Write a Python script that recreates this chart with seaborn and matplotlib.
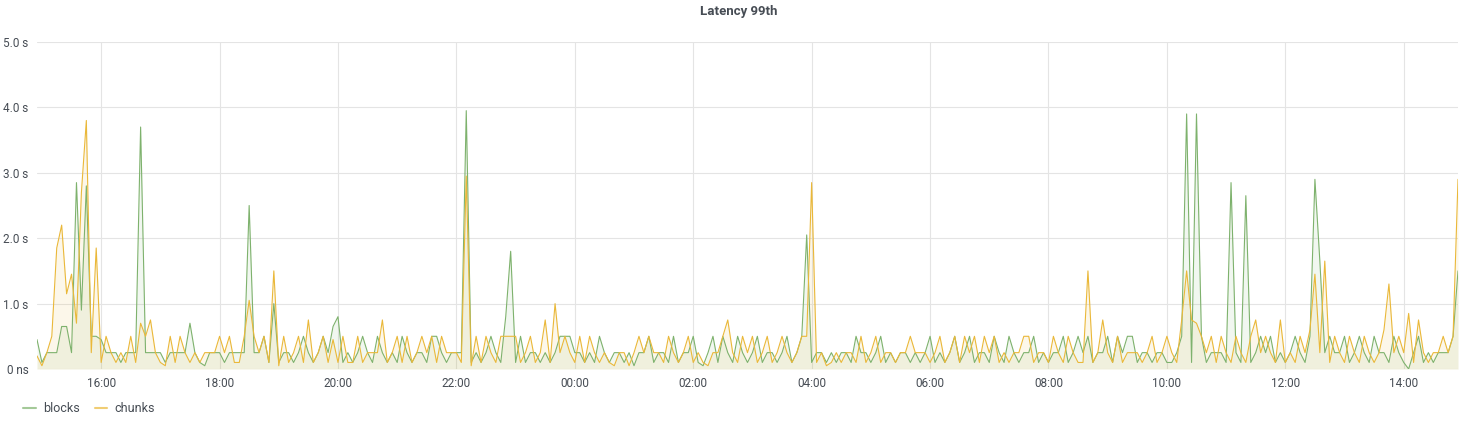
import pandas as pd
import numpy as np
import matplotlib
matplotlib.use("Agg")
import matplotlib.pyplot as plt
import matplotlib.dates as mdates
from matplotlib.ticker import FixedLocator
import seaborn as sns

# 5-minute samples from 14:55 to 14:55 next day, one row per hour (seconds)
blocks = [
    0.45, 0.1, 0.25, 0.25, 0.25, 0.65, 0.65, 0.25, 2.85, 0.9, 2.8, 0.5,
    0.5, 0.45, 0.25, 0.25, 0.25, 0.1, 0.25, 0.25, 0.25, 3.7, 0.25, 0.25,
    0.25, 0.25, 0.1, 0.25, 0.25, 0.25, 0.25, 0.7, 0.25, 0.1, 0.05, 0.25,
    0.25, 0.25, 0.1, 0.25, 0.25, 0.25, 0.25, 2.5, 0.25, 0.25, 0.5, 0.1,
    1.0, 0.1, 0.25, 0.25, 0.1, 0.25, 0.5, 0.25, 0.1, 0.25, 0.5, 0.25,
    0.65, 0.8, 0.1, 0.25, 0.1, 0.25, 0.5, 0.25, 0.1, 0.5, 0.25, 0.1,
    0.25, 0.1, 0.5, 0.25, 0.1, 0.25, 0.25, 0.1, 0.5, 0.5, 0.25, 0.1,
    0.25, 0.25, 0.25, 3.95, 0.1, 0.25, 0.1, 0.25, 0.5, 0.25, 0.1, 0.8,
    1.8, 0.1, 0.5, 0.1, 0.25, 0.25, 0.1, 0.25, 0.1, 0.25, 0.5, 0.5,
    0.5, 0.25, 0.25, 0.1, 0.25, 0.1, 0.5, 0.25, 0.1, 0.25, 0.25, 0.1,
    0.25, 0.05, 0.25, 0.25, 0.5, 0.1, 0.25, 0.25, 0.1, 0.5, 0.1, 0.25,
    0.25, 0.5, 0.1, 0.05, 0.25, 0.5, 0.1, 0.5, 0.25, 0.1, 0.5, 0.25,
    0.1, 0.25, 0.5, 0.1, 0.25, 0.25, 0.1, 0.25, 0.5, 0.1, 0.25, 0.5,
    2.05, 0.1, 0.25, 0.25, 0.1, 0.25, 0.1, 0.25, 0.25, 0.1, 0.5, 0.25,
    0.25, 0.1, 0.25, 0.5, 0.1, 0.25, 0.1, 0.25, 0.25, 0.1, 0.25, 0.1,
    0.25, 0.5, 0.1, 0.25, 0.1, 0.25, 0.5, 0.1, 0.25, 0.5, 0.1, 0.25,
    0.25, 0.1, 0.5, 0.25, 0.1, 0.5, 0.25, 0.1, 0.25, 0.25, 0.5, 0.1,
    0.25, 0.1, 0.25, 0.25, 0.5, 0.1, 0.25, 0.5, 0.25, 0.5, 0.1, 0.25,
    0.25, 0.5, 0.1, 0.5, 0.25, 0.5, 0.5, 0.1, 0.25, 0.25, 0.1, 0.25,
    0.25, 0.1, 0.1, 0.25, 0.5, 3.9, 0.1, 3.9, 0.5, 0.1, 0.25, 0.25,
    0.25, 0.1, 2.85, 0.25, 0.1, 2.65, 0.1, 0.25, 0.5, 0.25, 0.5, 0.1,
    0.25, 0.1, 0.25, 0.5, 0.25, 0.1, 0.5, 2.9, 1.65, 0.25, 0.5, 0.25,
    0.25, 0.5, 0.1, 0.25, 0.5, 0.25, 0.1, 0.5, 0.25, 0.25, 0.1, 0.5,
    0.25, 0.1, 0.0, 0.25, 0.5, 0.1, 0.25, 0.1, 0.25, 0.25, 0.25, 0.5,
    1.5,
]

chunks = [
    0.2, 0.05, 0.25, 0.5, 1.85, 2.2, 1.15, 1.45, 0.7, 2.7, 3.8, 0.25,
    1.85, 0.1, 0.5, 0.25, 0.1, 0.25, 0.1, 0.5, 0.1, 0.7, 0.5, 0.75,
    0.25, 0.1, 0.05, 0.5, 0.1, 0.5, 0.25, 0.1, 0.25, 0.1, 0.25, 0.25,
    0.25, 0.5, 0.25, 0.5, 0.1, 0.1, 0.5, 1.05, 0.5, 0.25, 0.5, 0.1,
    1.5, 0.05, 0.5, 0.1, 0.25, 0.5, 0.1, 0.75, 0.1, 0.25, 0.5, 0.1,
    0.45, 0.1, 0.5, 0.1, 0.1, 0.5, 0.1, 0.25, 0.25, 0.25, 0.75, 0.1,
    0.25, 0.5, 0.1, 0.5, 0.1, 0.25, 0.5, 0.25, 0.5, 0.1, 0.5, 0.25,
    0.25, 0.25, 0.1, 2.95, 0.05, 0.5, 0.1, 0.5, 0.25, 0.1, 0.5, 0.5,
    0.5, 0.5, 0.1, 0.25, 0.5, 0.1, 0.25, 0.75, 0.1, 1.0, 0.25, 0.5,
    0.25, 0.1, 0.5, 0.1, 0.5, 0.25, 0.1, 0.25, 0.1, 0.05, 0.25, 0.25,
    0.05, 0.25, 0.5, 0.25, 0.5, 0.25, 0.25, 0.1, 0.5, 0.25, 0.1, 0.25,
    0.5, 0.1, 0.25, 0.1, 0.05, 0.25, 0.25, 0.5, 0.75, 0.25, 0.1, 0.5,
    0.25, 0.5, 0.1, 0.25, 0.5, 0.1, 0.25, 0.5, 0.25, 0.1, 0.25, 0.5,
    0.5, 2.85, 0.1, 0.25, 0.05, 0.1, 0.25, 0.1, 0.25, 0.25, 0.1, 0.5,
    0.1, 0.25, 0.5, 0.1, 0.25, 0.25, 0.1, 0.25, 0.25, 0.5, 0.25, 0.25,
    0.25, 0.1, 0.25, 0.5, 0.1, 0.25, 0.5, 0.1, 0.5, 0.25, 0.5, 0.1,
    0.5, 0.25, 0.5, 0.1, 0.25, 0.1, 0.25, 0.25, 0.5, 0.5, 0.1, 0.25,
    0.25, 0.1, 0.5, 0.25, 0.1, 0.5, 0.25, 0.1, 0.1, 1.5, 0.1, 0.25,
    0.75, 0.25, 0.1, 0.5, 0.1, 0.25, 0.25, 0.25, 0.1, 0.25, 0.5, 0.1,
    0.25, 0.5, 0.25, 0.1, 0.75, 1.5, 0.75, 0.7, 0.5, 0.25, 0.5, 0.1,
    0.5, 0.25, 0.1, 0.5, 0.25, 0.1, 0.5, 0.75, 0.25, 0.5, 0.25, 0.1,
    0.75, 0.1, 0.25, 0.1, 0.5, 0.25, 0.6, 1.45, 0.25, 1.65, 0.1, 0.5,
    0.25, 0.1, 0.5, 0.25, 0.1, 0.5, 0.25, 0.1, 0.25, 0.6, 1.3, 0.25,
    0.5, 0.25, 0.85, 0.1, 0.75, 0.25, 0.1, 0.25, 0.25, 0.5, 0.25, 0.5,
    2.9,
]

series_names = ["blocks", "chunks"]
series_colors = ["#7EB26D", "#EAB839"]
y_ticks = [0, 1, 2, 3, 4, 5]
y_labels = ["0 ns", "1.0 s", "2.0 s", "3.0 s", "4.0 s", "5.0 s"]

times = pd.date_range("2021-03-01 14:55", periods=len(blocks), freq="5min")
df = pd.DataFrame({
    "time": np.concatenate([times, times]),
    "latency": blocks + chunks,
    "series": ["blocks"] * len(blocks) + ["chunks"] * len(chunks),
})

sns.set_style("white")
plt.rcParams["font.family"] = ["Roboto", "DejaVu Sans"]
text_col = "#464c54"

fig = plt.figure(figsize=(14.78, 4.25), dpi=100)
ax = fig.add_axes([37 / 1478, 1 - 369 / 425, (1458 - 37) / 1478, (369 - 42) / 425])

palette = dict(zip(series_names, series_colors))
sns.lineplot(data=df, x="time", y="latency", hue="series", palette=palette,
             linewidth=0.8, ax=ax, legend=False)

# grafana-style light fill under each series
for name, col in palette.items():
    sub = df[df["series"] == name]
    ax.fill_between(sub["time"], 0, sub["latency"], color=col, alpha=0.1, lw=0)

ax.set_xlim(times[0], times[-1])
ax.set_ylim(0, 5)
ax.yaxis.set_major_locator(FixedLocator(y_ticks))
ax.set_yticklabels(y_labels)
ax.xaxis.set_major_locator(mdates.HourLocator(byhour=range(0, 24, 2)))
ax.xaxis.set_major_formatter(mdates.DateFormatter("%H:%M"))
ax.grid(True, color="#e4e4e4", lw=0.8)
ax.set_axisbelow(True)
for s in ax.spines.values():
    s.set_visible(False)
ax.tick_params(axis="both", length=0, labelsize=8.5, colors=text_col, pad=6)
ax.set_xlabel("")
ax.set_ylabel("")

fig.text(0.5, 1 - 12 / 425, "Latency 99th", ha="center", va="center",
         fontsize=9.5, fontweight="bold", color=text_col)

handles = [plt.Line2D([], [], color=c, lw=1.5, alpha=0.7) for c in series_colors]
leg = fig.legend(handles, series_names, loc="center left",
                 bbox_to_anchor=(0.008, 1 - 409 / 425), ncol=2, frameon=False,
                 fontsize=9, handlelength=1.0, handletextpad=0.6,
                 columnspacing=1.2)
for t in leg.get_texts():
    t.set_color(text_col)

fig.savefig("out.png", dpi=100)
